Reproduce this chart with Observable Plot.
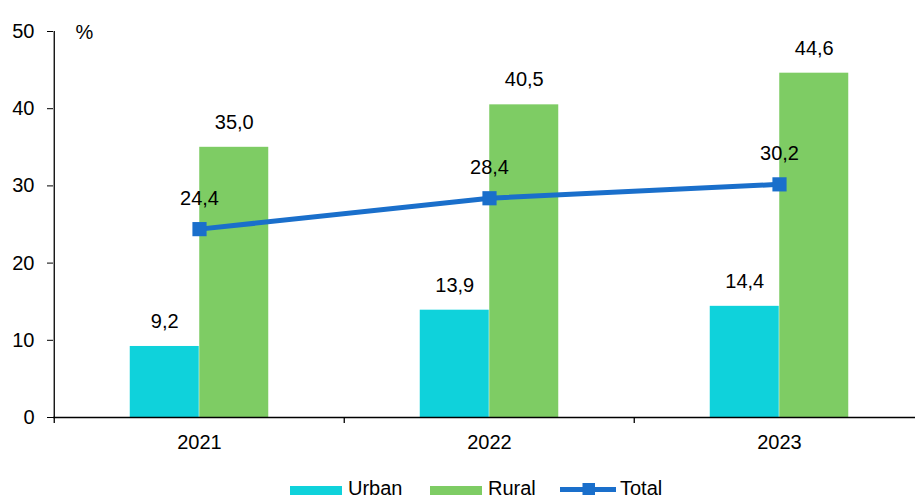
<!DOCTYPE html>
<html><head><meta charset="utf-8">
<script src="https://cdn.jsdelivr.net/npm/d3@7"></script>
<script src="https://cdn.jsdelivr.net/npm/@observablehq/plot@0.6"></script>
<style>
body{margin:0;background:#fff;font-family:"Liberation Sans",Arial,sans-serif;}
#wrap{position:relative;width:915px;height:498px;overflow:hidden;}
#legend{position:absolute;left:0;top:468px;}
</style></head><body><div id="wrap"></div>
<script>
const years = ["2021", "2022", "2023"];
const urban = [9.2, 13.9, 14.4];
const rural = [35.0, 40.5, 44.6];
const total = [24.4, 28.4, 30.2];
const yTicks = [0, 10, 20, 30, 40, 50];
const seriesNames = ["Urban", "Rural", "Total"];
const colors = {Urban: "#0FD2DB", Rural: "#7ECC64", Total: "#1A6FCB"};
const fmt = v => v.toFixed(1).replace(".", ",");
const rows = years.map((year, i) => ({year, urban: urban[i], rural: rural[i], total: total[i]}));

const W = 915, H = 468, ML = 53, MT = 31, MB = 51;
const step = 290.5, half = step / 2, barW = 69.5;
const font = "'Liberation Sans', Arial, sans-serif";
const FS = 20;

const plot = Plot.plot({
  width: W, height: H, marginLeft: ML, marginTop: MT, marginBottom: MB, marginRight: 0,
  style: {fontFamily: font, fontSize: FS + "px", color: "#000", background: "#fff", overflow: "hidden"},
  x: {type: "band", domain: years, range: [ML, ML + step * 3], padding: 0, tickSize: 0, tickPadding: 17, label: null},
  y: {domain: [0, 50], ticks: yTicks, tickSize: 6, tickPadding: 13, label: null},
  marks: [
    Plot.barY(rows, {x: "year", y: "urban", fill: colors.Urban, insetLeft: half - barW, insetRight: half}),
    Plot.barY(rows, {x: "year", y: "rural", fill: colors.Rural, insetLeft: half, insetRight: half - barW}),
    Plot.ruleY([0], {stroke: "#000", strokeWidth: 1.3}),
    Plot.ruleX([years[0]], {x: d => d, dx: -half, y1: 50, y2: 0, insetBottom: -6, stroke: "#000", strokeWidth: 1.3}),
    Plot.ruleX(years.slice(1), {x: d => d, dx: -half, y1: 0, insetBottom: -6, stroke: "#000", strokeWidth: 1.3}),
    Plot.text(rows, {x: "year", y: "urban", text: d => fmt(d.urban), dx: -barW / 2, dy: -25, fill: "#000", fontSize: FS}),
    Plot.text(rows, {x: "year", y: "rural", text: d => fmt(d.rural), dx: barW / 2, dy: -25, fill: "#000", fontSize: FS}),
    Plot.line(rows, {x: "year", y: "total", stroke: colors.Total, strokeWidth: 5}),
    Plot.dot(rows, {x: "year", y: "total", symbol: "square", fill: colors.Total, r: 8}),
    Plot.text(rows, {x: "year", y: "total", text: d => fmt(d.total), dy: -31, fill: "#000", fontSize: FS}),
    Plot.text(["%"], {frameAnchor: "top-left", text: d => d, dx: 22, dy: -7, textAnchor: "start", fill: "#000", fontSize: FS})
  ]
});
const wrap = document.getElementById("wrap");
wrap.appendChild(plot);

// legend below the chart
const lg = d3.create("svg").attr("id", "legend").attr("width", W).attr("height", 30)
  .style("font-family", font).style("font-size", FS + "px");
const items = [
  {name: seriesNames[0], x: 290, type: "rect"},
  {name: seriesNames[1], x: 430, type: "rect"},
  {name: seriesNames[2], x: 560, type: "line"}
];
const cy = 22;
for (const it of items) {
  const c = colors[it.name];
  if (it.type === "rect") {
    lg.append("rect").attr("x", it.x).attr("y", cy - 4).attr("width", 52).attr("height", 9).attr("fill", c);
    lg.append("text").attr("x", it.x + 58).attr("y", cy + 4.5).text(it.name).attr("fill", "#000");
  } else {
    lg.append("line").attr("x1", it.x).attr("x2", it.x + 56).attr("y1", cy - 0.5).attr("y2", cy - 0.5).attr("stroke", c).attr("stroke-width", 5);
    lg.append("rect").attr("x", it.x + 22.5).attr("y", cy - 7).attr("width", 12.5).attr("height", 12).attr("fill", c);
    lg.append("text").attr("x", it.x + 60).attr("y", cy + 4.5).text(it.name).attr("fill", "#000");
  }
}
wrap.appendChild(lg.node());
</script></body></html>
